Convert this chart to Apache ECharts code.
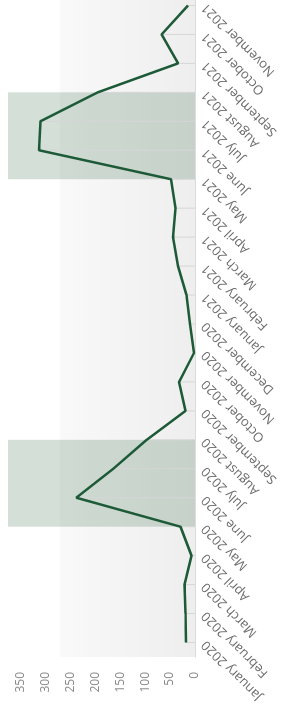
<!DOCTYPE html>
<html>
<head>
<meta charset="utf-8">
<script src="https://cdn.jsdelivr.net/npm/echarts@6/dist/echarts.min.js"></script>
<style>
  html, body { margin: 0; padding: 0; width: 291px; height: 713px; overflow: hidden; background: #fff; }
  /* chart is drawn landscape and turned a quarter turn to the left;
     its far end runs a little past the top of the window */
  #chart {
    position: absolute; left: 0; top: 0;
    width: 730px; height: 291px;
    transform-origin: 0 0;
    transform: translateY(713px) rotate(-90deg);
  }
</style>
</head>
<body>
<div id="chart"></div>
<script>
const months = [
  'January 2020', 'February 2020', 'March 2020', 'April 2020', 'May 2020', 'June 2020',
  'July 2020', 'August 2020', 'September 2020', 'October 2020', 'November 2020', 'December 2020',
  'January 2021', 'February 2021', 'March 2021', 'April 2021', 'May 2021', 'June 2021',
  'July 2021', 'August 2021', 'September 2021', 'October 2021', 'November 2021'
];
const values = [18, 19, 21, 7, 29, 238, 164, 97, 19, 32, 2, 10, 17, 34, 44, 39, 48, 313, 310, 195, 34, 67, 14];
// shaded periods [from, to]
const bands = [
  ['May 2020', 'August 2020'],
  ['May 2021', 'August 2021']
];

const chart = echarts.init(document.getElementById('chart'));

const labelFont = 'Open Sans';

chart.setOption({
  animation: false,
  grid: {
    left: 56,
    right: 8,
    top: 8,
    bottom: 96,
    show: true,
    borderWidth: 0,
    backgroundColor: new echarts.graphic.LinearGradient(0, 0, 0, 1, [
      { offset: 0, color: '#ffffff' },
      { offset: 0.275, color: '#ffffff' },
      { offset: 0.28, color: '#f9f9f9' },
      { offset: 1, color: '#eeeeee' }
    ])
  },
  xAxis: [
    {
      type: 'category',
      data: months,
      axisTick: { show: false },
      axisLine: { lineStyle: { color: '#dcdcdc' } },
      axisLabel: {
        interval: 0,
        rotate: 45,
        margin: 9,
        color: '#6b6b6b',
        fontSize: 13,
        fontFamily: labelFont
      }
    },
    {
      // hidden index axis, lined up with the category centres,
      // so the shaded periods run point to point
      type: 'value',
      min: -0.5,
      max: months.length - 0.5,
      show: false
    }
  ],
  yAxis: {
    type: 'value',
    min: 0,
    max: 375,
    interval: 50,
    splitLine: { show: false },
    axisLine: { show: false },
    axisTick: { show: false },
    axisLabel: {
      showMaxLabel: false,
      margin: 15,
      color: '#8a8a8a',
      fontSize: 12,
      fontFamily: labelFont
    }
  },
  series: [
    {
      // thin drop lines from each point to the axis
      type: 'bar',
      data: values,
      barWidth: 1,
      itemStyle: { color: '#d6d6d6' },
      silent: true
    },
    {
      type: 'line',
      xAxisIndex: 1,
      data: values.map((v, i) => [i, v]),
      showSymbol: false,
      clip: false,
      lineStyle: { color: '#1d5a37', width: 2.5 },
      z: 5,
      markArea: {
        silent: true,
        itemStyle: { color: 'rgba(40, 95, 60, 0.2)' },
        data: bands.map(b => [{ xAxis: months.indexOf(b[0]) }, { xAxis: months.indexOf(b[1]) }])
      }
    }
  ]
});
</script>
</body>
</html>
